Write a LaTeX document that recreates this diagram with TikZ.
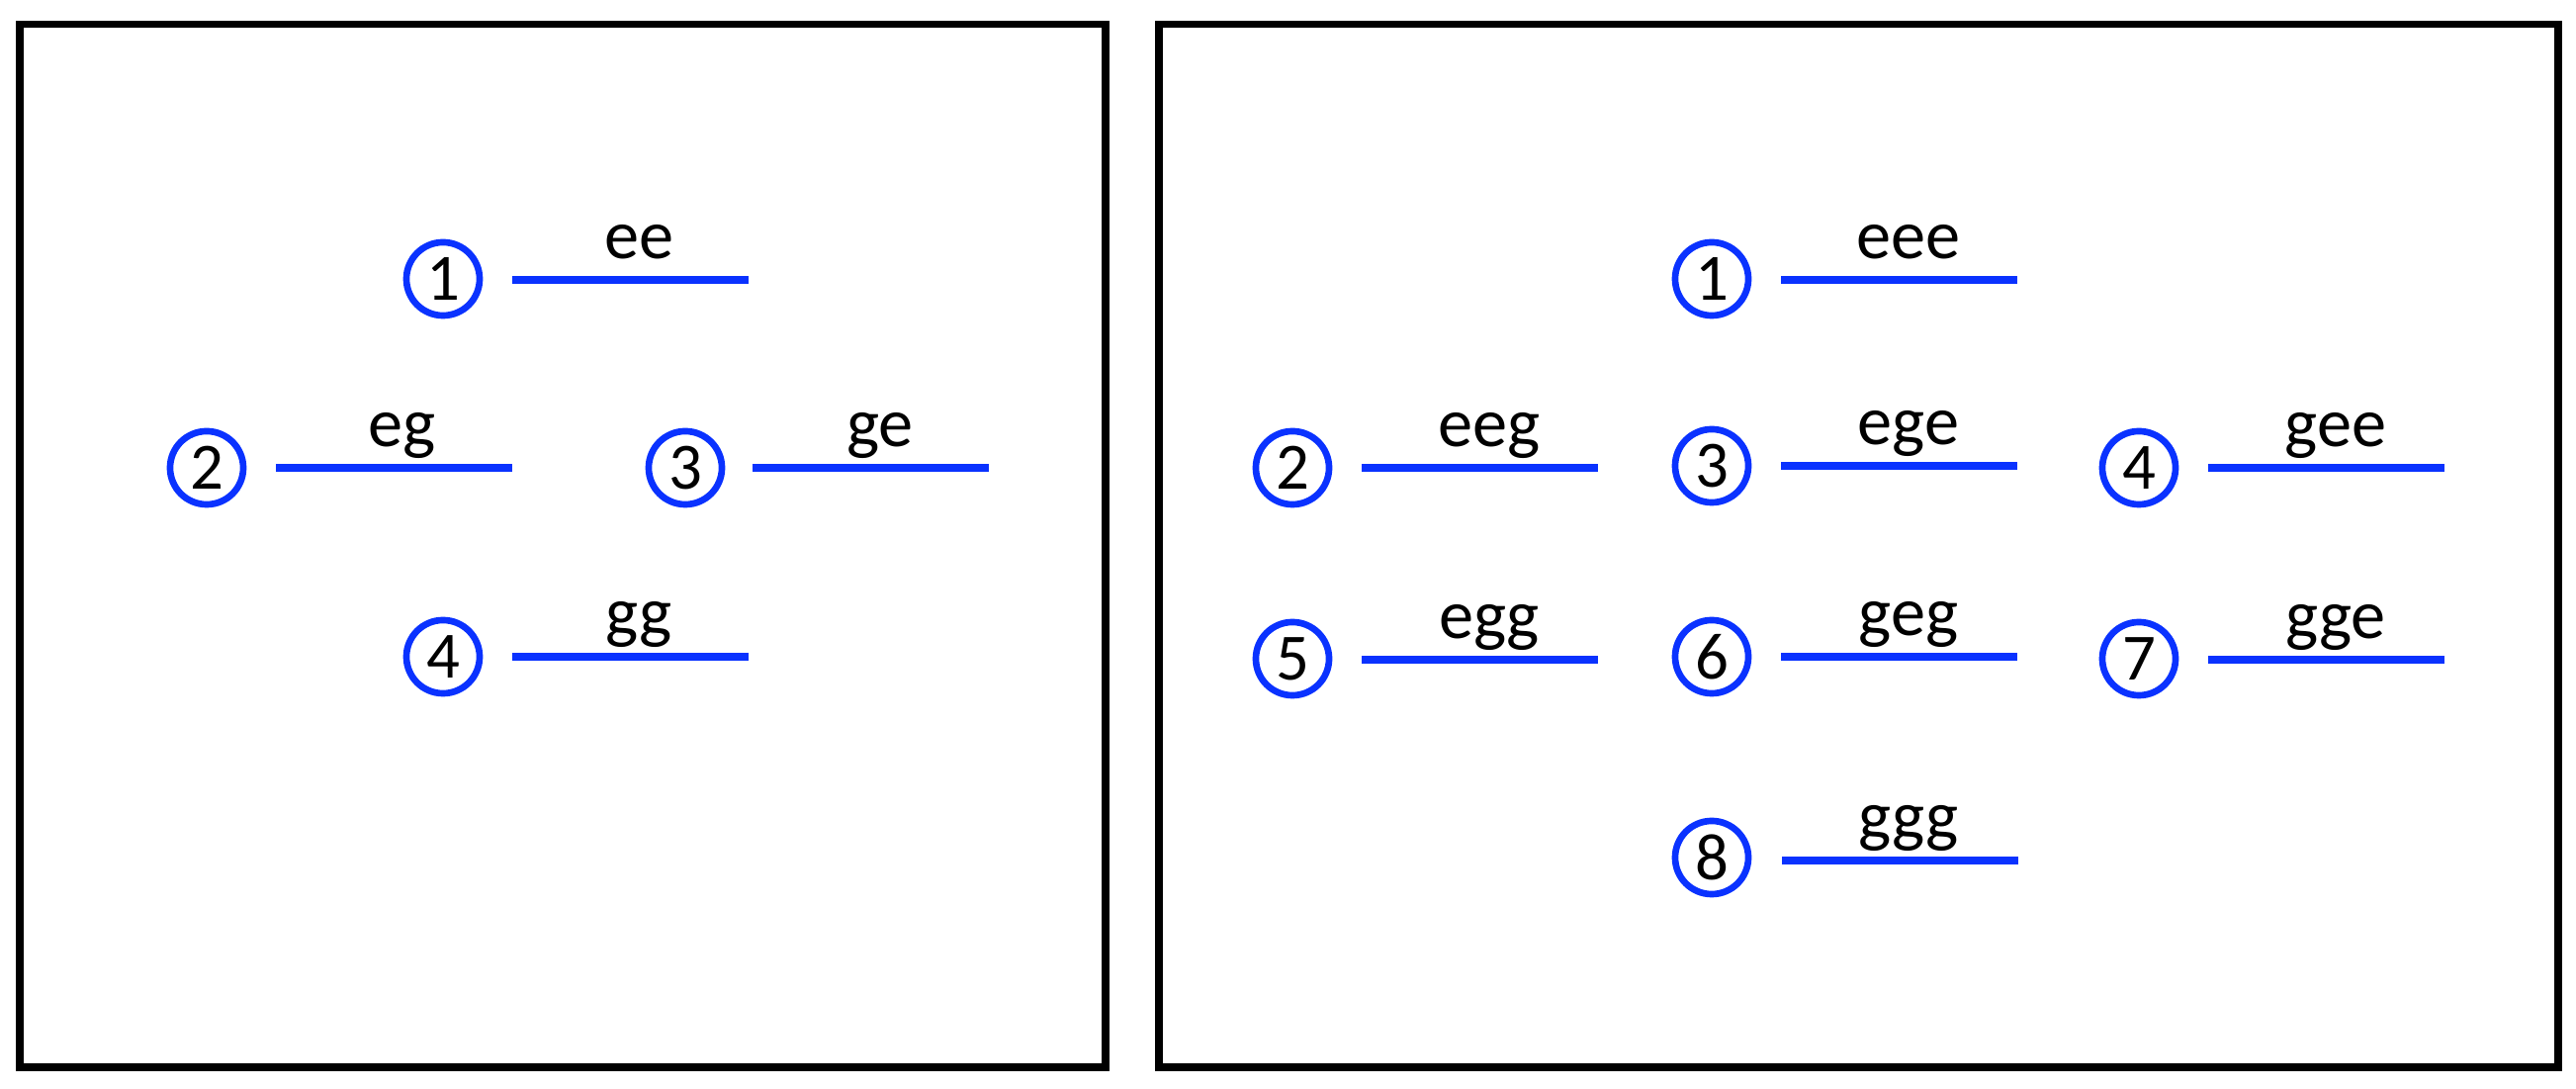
\documentclass[tikz,border=0pt]{standalone}
\usepackage{fontspec}
\setmainfont{Carlito}
\usepackage{xcolor}
\definecolor{LevelBlue}{HTML}{0A32FF}

\begin{document}
\begin{tikzpicture}[x=0.01cm,y=-0.01cm,
    frame/.style={draw=black,line width=2.1pt},
    num/.style={circle,draw=LevelBlue,line width=1.9pt,minimum size=0.74cm,
                inner sep=0pt,font=\fontsize{19}{19}\selectfont},
    lvl/.style={draw=LevelBlue,line width=2.5pt},
    lbl/.style={anchor=base,inner sep=0pt,font=\fontsize{20}{20}\selectfont}]
  \useasboundingbox (0,0) rectangle (2605,1101);

  % two-level panel
  \draw[frame] (20,24.5) rectangle (1118,1079);
  \node[num] (a1) at (448,282) {1};
  \draw[lvl] (518,283) -- (757,283);
  \node[lbl] (ee) at (646,262) {ee};
  \node[num] (a2) at (209,473) {2};
  \draw[lvl] (279,473) -- (518,473);
  \node[lbl] (eg) at (407,452) {eg};
  \node[num] (a3) at (693,473) {3};
  \draw[lvl] (761,473) -- (1000,473);
  \node[lbl] (ge) at (890,452) {ge};
  \node[num] (a4) at (448,664) {4};
  \draw[lvl] (518,664) -- (757,664);
  \node[lbl] (gg) at (646,643) {gg};

  % three-level panel
  \draw[frame] (1172,24.5) rectangle (2587,1079);
  \node[num] (b1) at (1731,282) {1};
  \draw[lvl] (1801,283) -- (2040,283);
  \node[lbl] (eee) at (1930,262) {eee};
  \node[num] (b2) at (1307,473) {2};
  \draw[lvl] (1377,473) -- (1616,473);
  \node[lbl] (eeg) at (1506,452) {eeg};
  \node[num] (b3) at (1731,471) {3};
  \draw[lvl] (1801,471) -- (2040,471);
  \node[lbl] (ege) at (1930,450) {ege};
  \node[num] (b4) at (2163,473) {4};
  \draw[lvl] (2233,473) -- (2472,473);
  \node[lbl] (gee) at (2362,452) {gee};
  \node[num] (b5) at (1307,666) {5};
  \draw[lvl] (1377,667) -- (1616,667);
  \node[lbl] (egg) at (1506,646) {egg};
  \node[num] (b6) at (1731,664) {6};
  \draw[lvl] (1801,664) -- (2040,664);
  \node[lbl] (geg) at (1930,643) {geg};
  \node[num] (b7) at (2163,666) {7};
  \draw[lvl] (2233,667) -- (2472,667);
  \node[lbl] (gge) at (2362,646) {gge};
  \node[num] (b8) at (1731,867) {8};
  \draw[lvl] (1802,870) -- (2041,870);
  \node[lbl] (ggg) at (1930,849) {ggg};
\end{tikzpicture}
\end{document}
